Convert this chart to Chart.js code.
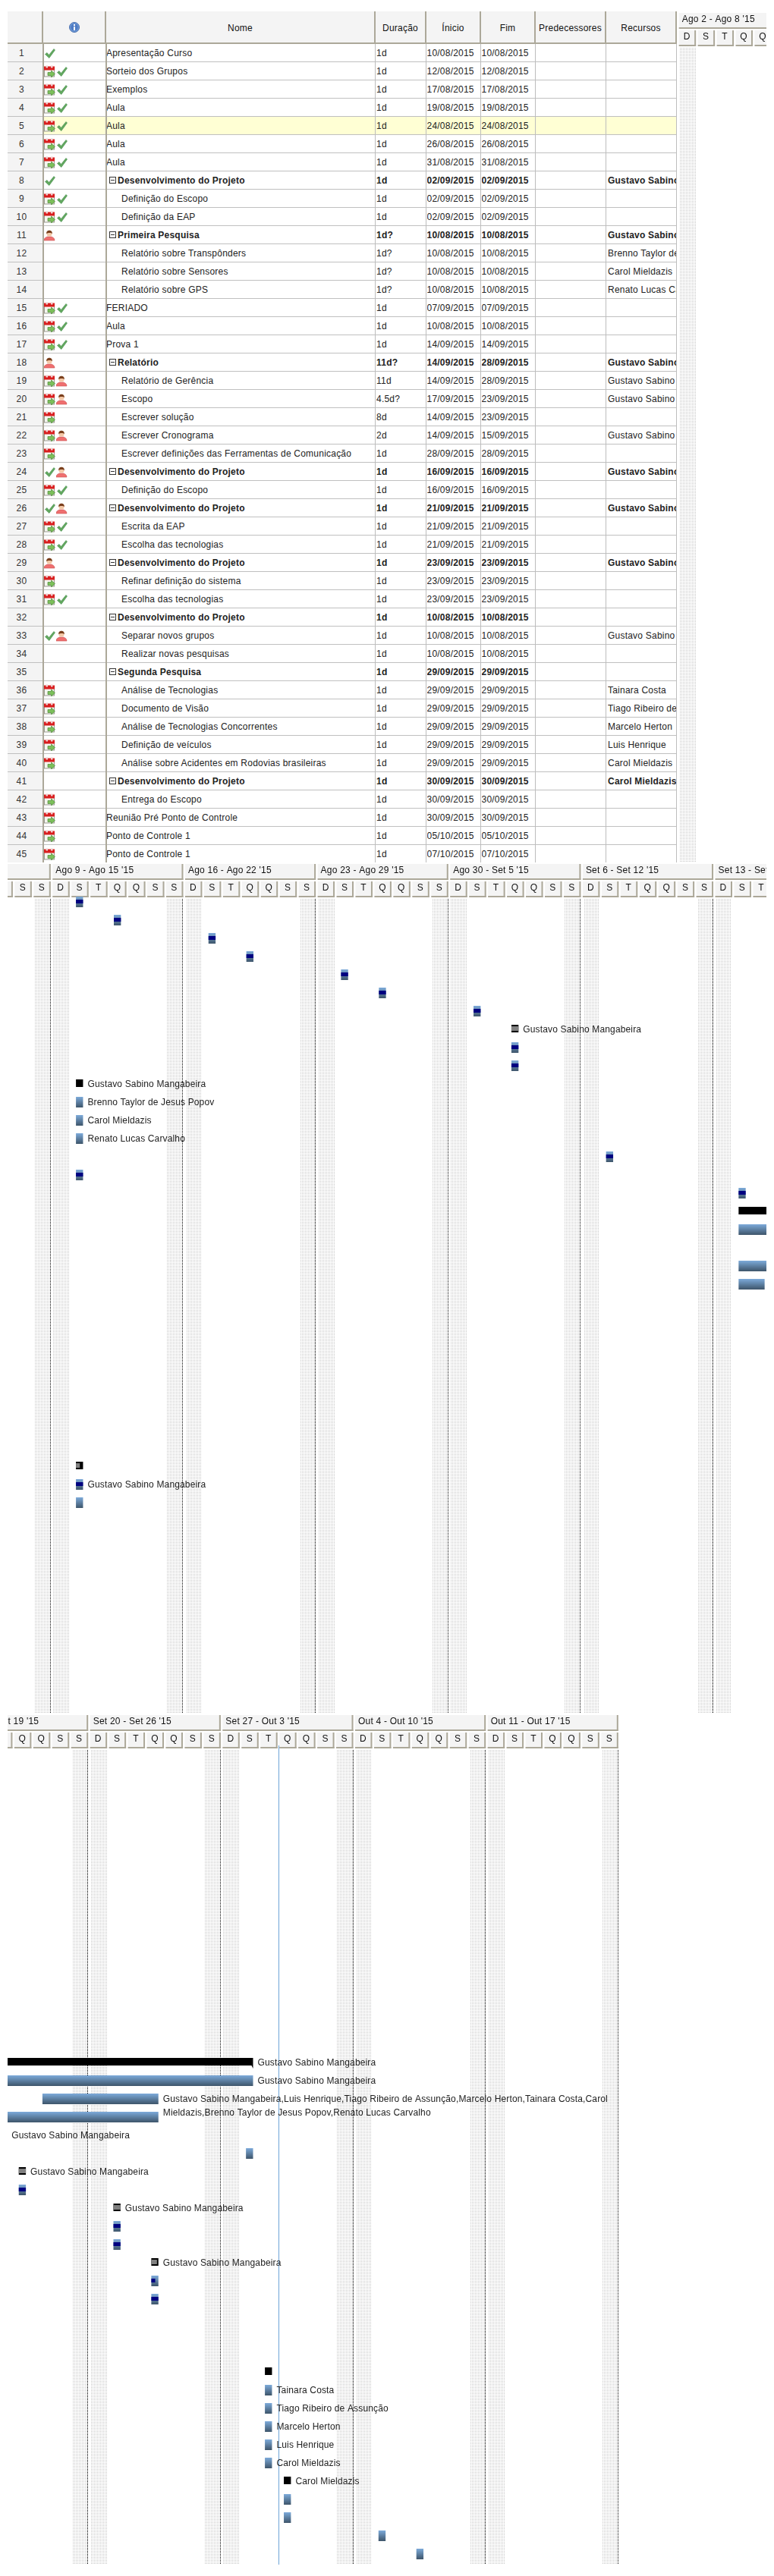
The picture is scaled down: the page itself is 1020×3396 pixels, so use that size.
<!DOCTYPE html>
<html lang="pt-BR"><head><meta charset="utf-8"><title>Gantt</title>
<script src="https://cdn.jsdelivr.net/npm/chart.js@4"></script>
<style>
html,body{margin:0;padding:0;background:#fff;}
#page{position:relative;width:1020px;height:3396px;overflow:hidden;font:12px "Liberation Sans",Arial,sans-serif;color:#222;letter-spacing:.22px;}
#page canvas{position:absolute;display:block;}
.c{position:absolute;white-space:nowrap;overflow:hidden;box-sizing:border-box;height:24px;line-height:25px;}
.h{position:absolute;text-align:center;top:15px;height:43px;line-height:44px;background:#f4f4f4;border-right:2px solid #aca899;border-bottom:2px solid #aca899;box-sizing:border-box;color:#111;}
.b{font-weight:bold;}
.ln{position:absolute;background:#c0c0c0;}
svg{position:absolute;}
</style></head><body><div id="page"></div>
<script>
/* ---------- task table data ---------- */
const taskNames = ["Apresentação Curso","Sorteio dos Grupos","Exemplos","Aula","Aula","Aula","Aula","Desenvolvimento do Projeto","Definição do Escopo","Definição da EAP","Primeira Pesquisa","Relatório sobre Transpônders","Relatório sobre Sensores","Relatório sobre GPS","FERIADO","Aula","Prova 1","Relatório","Relatório de Gerência","Escopo","Escrever solução","Escrever Cronograma","Escrever definições das Ferramentas de Comunicação","Desenvolvimento do Projeto","Definição do Escopo","Desenvolvimento do Projeto","Escrita da EAP","Escolha das tecnologias","Desenvolvimento do Projeto","Refinar definição do sistema","Escolha das tecnologias","Desenvolvimento do Projeto","Separar novos grupos","Realizar novas pesquisas","Segunda Pesquisa","Análise de Tecnologias","Documento de Visão","Análise de Tecnologias Concorrentes","Definição de veículos","Análise sobre Acidentes em Rodovias brasileiras","Desenvolvimento do Projeto","Entrega do Escopo","Reunião Pré Ponto de Controle","Ponto de Controle 1","Ponto de Controle 1"];
/* 0 = plain task, 1 = indented task, 2 = summary */
const taskKinds = [0,0,0,0,0,0,0,2,1,1,2,1,1,1,0,0,0,2,1,1,1,1,1,2,1,2,1,1,2,1,1,2,1,1,2,1,1,1,1,1,2,1,0,0,0];
const durations = ["1d","1d","1d","1d","1d","1d","1d","1d","1d","1d","1d?","1d?","1d?","1d?","1d","1d","1d","11d?","11d","4.5d?","8d","2d","1d","1d","1d","1d","1d","1d","1d","1d","1d","1d","1d","1d","1d","1d","1d","1d","1d","1d","1d","1d","1d","1d","1d"];
const startDates = ["10/08/2015","12/08/2015","17/08/2015","19/08/2015","24/08/2015","26/08/2015","31/08/2015","02/09/2015","02/09/2015","02/09/2015","10/08/2015","10/08/2015","10/08/2015","10/08/2015","07/09/2015","10/08/2015","14/09/2015","14/09/2015","14/09/2015","17/09/2015","14/09/2015","14/09/2015","28/09/2015","16/09/2015","16/09/2015","21/09/2015","21/09/2015","21/09/2015","23/09/2015","23/09/2015","23/09/2015","10/08/2015","10/08/2015","10/08/2015","29/09/2015","29/09/2015","29/09/2015","29/09/2015","29/09/2015","29/09/2015","30/09/2015","30/09/2015","30/09/2015","05/10/2015","07/10/2015"];
const endDates = ["10/08/2015","12/08/2015","17/08/2015","19/08/2015","24/08/2015","26/08/2015","31/08/2015","02/09/2015","02/09/2015","02/09/2015","10/08/2015","10/08/2015","10/08/2015","10/08/2015","07/09/2015","10/08/2015","14/09/2015","28/09/2015","28/09/2015","23/09/2015","23/09/2015","15/09/2015","28/09/2015","16/09/2015","16/09/2015","21/09/2015","21/09/2015","21/09/2015","23/09/2015","23/09/2015","23/09/2015","10/08/2015","10/08/2015","10/08/2015","29/09/2015","29/09/2015","29/09/2015","29/09/2015","29/09/2015","29/09/2015","30/09/2015","30/09/2015","30/09/2015","05/10/2015","07/10/2015"];
const G = "Gustavo Sabino Mangabeira";
const resources = ["","","","","","","",G,"","",G,"Brenno Taylor de Jesus Popov","Carol Mieldazis","Renato Lucas Carvalho","","","",G,G,G+",Luis Henrique,Tiago Ribeiro de Assunção,Marcelo Herton,Tainara Costa,Carol|Mieldazis,Brenno Taylor de Jesus Popov,Renato Lucas Carvalho","",G,"",G,"",G,"","",G,"","","",G,"","","Tainara Costa","Tiago Ribeiro de Assunção","Marcelo Herton","Luis Henrique","Carol Mieldazis","Carol Mieldazis","","","",""];
/* percent complete */
const progress = [100,100,100,100,100,100,100,100,100,100,0,0,0,0,100,100,100,0,0,0,0,0,0,100,100,100,100,100,80,55,100,55,100,0,0,0,0,0,0,0,0,0,0,0,0];
/* k = calendar, v = check, p = person */
const taskIcons = ["v","kv","kv","kv","kv","kv","kv","v","kv","kv","p","","","","kv","kv","kv","p","kp","kp","k","kp","k","vp","kv","vp","kv","kv","p","k","kv","","vp","","","k","k","k","k","k","","k","k","k","k"];
const highlightedRow = 5;
/* ---------- time axis data ---------- */
const weekStarts = ["02/08/2015","09/08/2015","16/08/2015","23/08/2015","30/08/2015","06/09/2015","13/09/2015","20/09/2015","27/09/2015","04/10/2015","11/10/2015","18/10/2015"];
const weekLabels = ["Ago 2 - Ago 8 '15","Ago 9 - Ago 15 '15","Ago 16 - Ago 22 '15","Ago 23 - Ago 29 '15","Ago 30 - Set 5 '15","Set 6 - Set 12 '15","Set 13 - Set 19 '15","Set 20 - Set 26 '15","Set 27 - Out 3 '15","Out 4 - Out 10 '15","Out 11 - Out 17 '15",""];
const dayLetters = ["D","S","T","Q","Q","S","S"];
const workStartHour = 8.5, workEndHour = 17.5;
const startHourOverrides = {20:14.5};
const todayDate = "30/09/2015", todayHour = 2.2;
const headerColumns = ["","","Nome","Duração","Ínicio","Fim","Predecessores","Recursos"];

/* ---------- layout constants ---------- */
const pxPerDay = 24.95, headerH = 46;
const colX = [10,57,140,495,562,634,706,799,892];
const pages = [
 {left:894,top:17,width:116,height:1120,anchor:"02/08/2015",anchorPx:891.7},
 {left:10,top:1139,width:1000,height:1119,anchor:"09/08/2015",anchorPx:66.3},
 {left:10,top:2261,width:1000,height:1120,anchor:"20/09/2015",anchorPx:115.7}
];
const dayNum = s => { const [d,m,y]=s.split('/').map(Number); return Date.UTC(y,m-1,d)/864e5; };
const root = document.getElementById('page');

/* ---------- icons ---------- */
const iconCheck = '<path d="M1.5 8.5 4 6.5 6.5 9.5 13 1.5 14.5 3 6.8 13.5Z" fill="#63a95f" stroke="#3f8a48" stroke-width=".6"/>';
const iconCal = '<rect x=".5" y="2.5" width="13" height="12.5" fill="#f6f6f0" stroke="#9a9a90"/><rect x="0" y="1.5" width="14" height="5" fill="#d81e1e"/><rect x="2.5" y=".5" width="2.5" height="3" fill="#f0d0d0"/><rect x="9" y=".5" width="2.5" height="3" fill="#f0d0d0"/><path d="M5 9.5h4.5V7l5 4.5-5 4.5v-2.5H5Z" fill="#7cc05a" stroke="#4d8a3a" stroke-width=".7"/>';
const iconPerson = '<path d="M0 14c0-3.5 3-4.5 4.5-5h5c1.5.5 4.5 1.5 4.5 5z" fill="#ef6f6f" stroke="#c95050" stroke-width=".6"/><circle cx="7" cy="5" r="3.6" fill="#f4c9a8"/><path d="M3.2 5C3 2 5 .8 7 .8S11 2 10.8 5C9.5 3.5 5 3.5 3.2 5Z" fill="#7a3f1c"/>';
const iconInfo = '<circle cx="7" cy="7" r="6.5" fill="#6f9bd8" stroke="#4a6fae"/><circle cx="7" cy="7" r="4.8" fill="#4f7cc4"/><rect x="6" y="3" width="2" height="2" fill="#fff"/><rect x="6" y="6" width="2" height="5" fill="#fff"/>';
function svgAt(x,y,w,h,inner){ const s=document.createElementNS('http://www.w3.org/2000/svg','svg'); s.setAttribute('width',w); s.setAttribute('height',h); s.setAttribute('viewBox',`0 0 ${w} ${h}`); s.style.left=x+'px'; s.style.top=y+'px'; s.innerHTML=inner; root.appendChild(s); }
function div(cls,x,y,w,h,text,extra){ const d=document.createElement('div'); d.className=cls; d.style.left=x+'px'; d.style.top=y+'px'; d.style.width=w+'px'; if(h!=null)d.style.height=h+'px'; if(text!=null)d.textContent=text; if(extra)Object.assign(d.style,extra); root.appendChild(d); return d; }

/* ---------- table ---------- */
headerColumns.forEach((t,i)=>{ div('h',colX[i],15,colX[i+1]-colX[i],43,t); });
svgAt(91,29,14,14,iconInfo);
const rowH = 24, tableTop = 58;
taskNames.forEach((name,i)=>{
  const y = tableTop + i*rowH, n=i+1, kind=taskKinds[i], bold=kind===2;
  if(n===highlightedRow) div('ln',57,y,835,rowH,null,{background:'#ffffd4'});
  div('ln',10,y,47,rowH-1,null,{background:'#f4f4f4'});
  div('c',10,y,37,null,String(n),{textAlign:'center',color:'#333'});
  [...taskIcons[i]].forEach((ic,j)=>{
    const ix=58+j*16;
    if(ic==='k') svgAt(ix,y+4,15,16,iconCal);
    else if(ic==='v') svgAt(ix,y+5,15,15,iconCheck);
    else svgAt(ix,y+5,15,15,iconPerson);
  });
  const nameX = kind===0?140:(kind===1?160:155);
  div('c'+(bold?' b':''),nameX,y,494-nameX,null,name);
  if(bold){ div('ln',144,y+7,9,9,null,{background:'transparent',border:'1px solid #333',boxSizing:'border-box'}); div('ln',146,y+11,5,1,null,{background:'#333'}); }
  div('c'+(bold?' b':''),496,y,65,null,durations[i]);
  div('c'+(bold?' b':''),562.5,y,70,null,startDates[i]);
  div('c'+(bold?' b':''),634.5,y,70,null,endDates[i]);
  div('c'+(bold?' b':''),801,y,90,null,resources[i].replace('|',' '));
  if(i<taskNames.length-1) div('ln',10,y+rowH-1,882,1);
});
[56,139,494,561,633,705,798,891].forEach((x,i)=>div('ln',x,58,i<2?1.5:1,1079,null,{background:i<2?'#aca899':'#bdbdbd'}));

/* ---------- chart data built from the arrays ---------- */
const range = i => { const a=dayNum(startDates[i])+(startHourOverrides[i+1]??workStartHour)/24, b=dayNum(endDates[i])+workEndHour/24; return [a,b]; };
const idx = taskNames.map((_,i)=>i);
const taskBars = idx.filter(i=>taskKinds[i]!==2).map(i=>({x:range(i),y:i+1}));
const summaryBars = idx.filter(i=>taskKinds[i]===2).map(i=>({x:range(i),y:i+1-1/rowH}));
const partial = (i,off) => { const [a,b]=range(i); return {x:[a,a+(b-a)*progress[i]/100],y:i+1-off/rowH}; };
const taskProgress = idx.filter(i=>taskKinds[i]!==2&&progress[i]>0).map(i=>partial(i,.5));
const summaryProgress = idx.filter(i=>taskKinds[i]===2&&progress[i]>0).map(i=>partial(i,1));
const weekVals = weekStarts.map(dayNum);
const dayVals = []; for(let w=0;w<weekVals.length-1;w++) for(let d=0;d<7;d++) dayVals.push(weekVals[w]+d);

/* ---------- plugin: header cells, weekend bands, labels, today line ---------- */
function dotPattern(ctx){ const c=document.createElement('canvas'); c.width=c.height=2; const g=c.getContext('2d'); g.fillStyle='#fff'; g.fillRect(0,0,2,2); g.fillStyle='#c6c6c6'; g.fillRect(0,0,1,1); return ctx.createPattern(c,'repeat'); }
function barPattern(ctx){
  const c=document.createElement('canvas'); c.width=1; c.height=rowH; const g=c.getContext('2d');
  const top=headerH+4-7, from=[122,167,214], to=[64,88,110];
  for(let k=0;k<14;k++){ const t=k/13; g.fillStyle=`rgb(${from.map((v,j)=>Math.round(v+(to[j]-v)*t)).join(',')})`; g.fillRect(0,(top+k)%rowH,1,1); }
  return ctx.createPattern(c,'repeat');
}
const ganttPlugin = {
  id:'gantt',
  beforeDraw(chart){
    const {ctx,chartArea:a,scales:{x}}=chart; const P=v=>x.getPixelForValue(v);
    ctx.save();
    const btn=(l,r,t,b)=>{ ctx.fillStyle='#f4f4f4'; ctx.fillRect(l,t,r-l,b-t); ctx.fillStyle='#aca899'; ctx.fillRect(l,b-2,r-l,2); ctx.fillRect(r-2,t,2,b-t); };
    for(let w=0;w<weekVals.length-1;w++) btn(P(weekVals[w])+3,P(weekVals[w+1])+.5,0,21);
    dayVals.forEach(v=>btn(P(v)+3,P(v+1)+.5,23,44));
    ctx.fillStyle=dotPattern(ctx);
    weekVals.forEach((w,i)=>{
      const band=(end)=>{ const r=P(end); ctx.fillRect(Math.round(r-21),a.top,21,a.bottom-a.top); };
      band(w);
      if(i<weekVals.length-1) band(w+1);
    });
    ctx.restore();
  },
  afterDatasetsDraw(chart){
    const {ctx,chartArea:a,scales:{x,y}}=chart; const P=v=>x.getPixelForValue(v);
    ctx.save();
    ctx.fillStyle='#000';
    idx.filter(i=>taskKinds[i]===2&&endDates[i]!==startDates[i]).forEach(i=>{
      const r=P(range(i)[1]), b=y.getPixelForValue(i+1)+4;
      ctx.beginPath(); ctx.moveTo(r-2,b); ctx.lineTo(r,b); ctx.lineTo(r,b+4); ctx.closePath(); ctx.fill();
    });
    const tx=P(dayNum(todayDate)+todayHour/24);
    if(tx>=a.left&&tx<=a.right){ ctx.fillStyle='#6fa5d8'; ctx.fillRect(Math.round(tx),a.top-6,1,a.bottom-a.top+6); }
    ctx.fillStyle='#222'; ctx.font='12px "Liberation Sans", Arial, sans-serif'; ctx.textBaseline='middle'; ctx.textAlign='left';
    ctx.letterSpacing='0.15px';
    resources.forEach((t,i)=>{
      if(!t) return;
      const lx=P(range(i)[1])+6, ly=y.getPixelForValue(i+1)+1;
      t.split('|').forEach((line,j)=>ctx.fillText(line,lx,ly+j*18));
    });
    ctx.restore();
  }
};

/* ---------- one chart per printed page ---------- */
pages.forEach(pg=>{
  const cv=document.createElement('canvas'); cv.width=pg.width; cv.height=pg.height;
  cv.style.left=pg.left+'px'; cv.style.top=pg.top+'px'; cv.style.width=pg.width+'px'; cv.style.height=pg.height+'px';
  root.appendChild(cv);
  const ctx=cv.getContext('2d');
  const xMin=dayNum(pg.anchor)+(pg.left-pg.anchorPx)/pxPerDay, xMax=xMin+pg.width/pxPerDay;
  const areaH=pg.height-headerH, yMin=1-4/rowH, yMax=yMin+areaH/rowH;
  const fixH=h=>s=>{ s.height=h; s.paddingLeft=0; s.paddingRight=0; };
  const tickFont={family:'"Liberation Sans", Arial, sans-serif',size:12};
  new Chart(ctx,{
    type:'bar',
    data:{datasets:[
      {data:taskProgress,backgroundColor:'#000080',barThickness:5,order:0},
      {data:summaryProgress,backgroundColor:'#808080',barThickness:6,order:1},
      {data:taskBars,backgroundColor:barPattern(ctx),barThickness:14,order:2},
      {data:summaryBars,backgroundColor:'#000',barThickness:10,order:3}
    ]},
    options:{
      responsive:false,animation:false,indexAxis:'y',events:[],
      layout:{padding:0},
      clip:false,
      grouped:false,
      inflateAmount:0,
      datasets:{bar:{grouped:false,inflateAmount:0,clip:false,borderWidth:0}},
      plugins:{legend:{display:false},tooltip:{enabled:false},title:{display:false}},
      scales:{
        y:{type:'linear',reverse:true,display:false,min:yMin,max:yMax,offset:false,grid:{display:false}},
        x:{type:'linear',position:'top',weight:1,min:xMin,max:xMax,offset:false,
           afterBuildTicks:s=>{ s.ticks=dayVals.map(v=>({value:v+.5})); },
           afterFit:fixH(23),
           grid:{display:false,drawTicks:false},border:{display:false},
           ticks:{autoSkip:false,maxRotation:0,minRotation:0,padding:7,labelOffset:1,color:'#111',font:tickFont,
             callback:(v,i)=>dayLetters[i%7]}},
        xWeek:{axis:'x',type:'linear',position:'top',weight:2,min:xMin,max:xMax,offset:false,
           afterBuildTicks:s=>{ s.ticks=weekVals.map(v=>({value:v})); },
           afterFit:fixH(23),
           grid:{display:true,drawTicks:false,color:'#000',lineWidth:1,drawOnChartArea:true},border:{display:false,dash:[1,1]},
           ticks:{autoSkip:false,maxRotation:0,minRotation:0,padding:7,align:'start',labelOffset:7,color:'#111',font:tickFont,
             callback:(v,i)=>weekLabels[i]}}
      }
    },
    plugins:[ganttPlugin]
  });
});
</script></body></html>
